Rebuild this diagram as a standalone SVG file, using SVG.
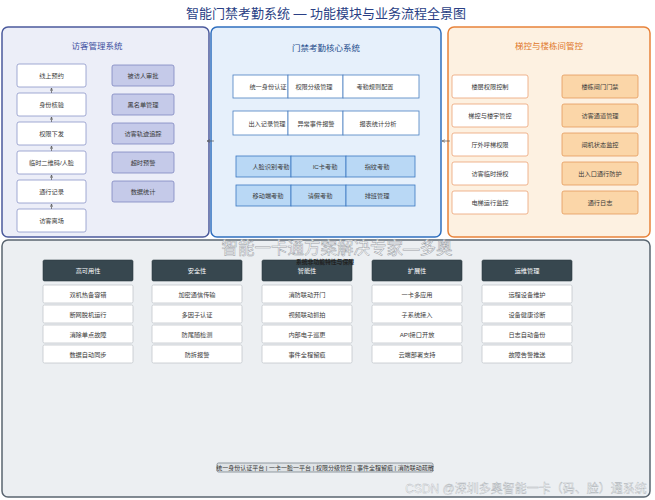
<svg xmlns="http://www.w3.org/2000/svg" width="655" height="500" viewBox="0 0 655 500">
<style>
text{font-family:"Liberation Sans","Noto Sans CJK SC",sans-serif;text-anchor:middle;dominant-baseline:central;font-size:6.2px;fill:#3a3a3a}
.title{font-size:13px;fill:#2a3f85}
.pt{font-size:8.5px}
.wb{fill:#fff;stroke:#8c94c8;stroke-width:0.8}
.lb{fill:#c5cae9;stroke:#7f87bf;stroke-width:0.8}
.mw{fill:#fff;stroke:#4a7fc0;stroke-width:0.8}
.mb{fill:#b9d8f5;stroke:#3a78c0;stroke-width:0.8}
.ow{fill:#fff;stroke:#eba274;stroke-width:0.8}
.ob{fill:#fbd6a8;stroke:#e59a5a;stroke-width:0.8}
.hd{fill:#37474f;stroke:#2c3a40;stroke-width:0.6}
.hdt{fill:#fff}
.it{fill:#fff;stroke:#c3c7cb;stroke-width:0.8}
.conn{stroke:#555;stroke-width:0.7;fill:none}
.wm{font-size:16.5px;fill:#fff;stroke:#9aa0a6;stroke-width:0.5}
</style>
<defs>
<marker id="ah" viewBox="0 0 6 6" refX="5.5" refY="3" markerWidth="5" markerHeight="5" orient="auto-start-reverse">
<path d="M0,0.5 L5.5,3 L0,5.5" fill="none" stroke="#555" stroke-width="1"/>
</marker>
</defs>
<rect width="655" height="500" fill="#ffffff"/>
<text class="title" x="326" y="13">智能门禁考勤系统 — 功能模块与业务流程全景图</text>

<g id="visitor">
<rect x="2" y="27" width="207" height="210" rx="6" fill="#eceef8" stroke="#4b5a9c" stroke-width="1.5"/>
<text class="pt" x="97" y="46" style="fill:#3d4fa0">访客管理系统</text>
<g id="v1"><rect class="wb" x="17" y="64" width="69" height="23" rx="2"/><text x="51.5" y="75.5">线上预约</text></g>
<g id="v2"><rect class="wb" x="17" y="93" width="69" height="23" rx="2"/><text x="51.5" y="104.5">身份核验</text></g>
<g id="v3"><rect class="wb" x="17" y="122" width="69" height="23" rx="2"/><text x="51.5" y="133.5">权限下发</text></g>
<g id="v4"><rect class="wb" x="17" y="151" width="69" height="23" rx="2"/><text x="51.5" y="162.5">临时二维码/人脸</text></g>
<g id="v5"><rect class="wb" x="17" y="180" width="69" height="23" rx="2"/><text x="51.5" y="191.5">通行记录</text></g>
<g id="v6"><rect class="wb" x="17" y="209" width="69" height="23" rx="2"/><text x="51.5" y="220.5">访客离场</text></g>
<g id="v7"><rect class="lb" x="112" y="65" width="62" height="21" rx="2"/><text x="143" y="75.5">被访人审批</text></g>
<g id="v8"><rect class="lb" x="112" y="94" width="62" height="21" rx="2"/><text x="143" y="104.5">黑名单管理</text></g>
<g id="v9"><rect class="lb" x="112" y="123" width="62" height="21" rx="2"/><text x="143" y="133.5">访客轨迹追踪</text></g>
<g id="v10"><rect class="lb" x="112" y="152" width="62" height="21" rx="2"/><text x="143" y="162.5">超时预警</text></g>
<g id="v11"><rect class="lb" x="112" y="181" width="62" height="21" rx="2"/><text x="143" y="191.5">数据统计</text></g>
</g>

<g id="core">
<rect x="211" y="27" width="230" height="210" rx="6" fill="#e6f0fb" stroke="#2f6fbf" stroke-width="1.5"/>
<text class="pt" x="326" y="48" style="fill:#1e4d8c">门禁考勤核心系统</text>
<g id="c1"><rect class="mw" x="233" y="75" width="55" height="23"/><text x="268" y="86.5">统一身份认证</text></g>
<g id="c2"><rect class="mw" x="288" y="75" width="55" height="23"/><text x="314" y="86.5">权限分级管理</text></g>
<g id="c3"><rect class="mw" x="343" y="75" width="76" height="23"/><text x="375" y="86.5">考勤规则配置</text></g>
<g id="c4"><rect class="mw" x="233" y="111" width="55" height="24"/><text x="267" y="123">出入记录管理</text></g>
<g id="c5"><rect class="mw" x="288" y="111" width="55" height="24"/><text x="316" y="123">异常事件报警</text></g>
<g id="c6"><rect class="mw" x="343" y="111" width="76" height="24"/><text x="378" y="123">报表统计分析</text></g>
<g id="c7"><rect class="mb" x="236" y="156" width="55" height="21"/><text x="271" y="166.5">人脸识别考勤</text></g>
<g id="c8"><rect class="mb" x="291" y="156" width="55" height="21"/><text x="325" y="166.5">IC卡考勤</text></g>
<g id="c9"><rect class="mb" x="346" y="156" width="69" height="21"/><text x="377" y="166.5">指纹考勤</text></g>
<g id="c10"><rect class="mb" x="236" y="185" width="55" height="21"/><text x="268" y="195.5">移动端考勤</text></g>
<g id="c11"><rect class="mb" x="291" y="185" width="55" height="21"/><text x="320" y="195.5">请假考勤</text></g>
<g id="c12"><rect class="mb" x="346" y="185" width="69" height="21"/><text x="377" y="195.5">排班管理</text></g>
</g>

<g id="elevator">
<rect x="448" y="27" width="202" height="210" rx="6" fill="#fdf1e1" stroke="#e8833a" stroke-width="1.5"/>
<text class="pt" x="549" y="46" style="fill:#e0772a">梯控与楼栋间管控</text>
<g id="e1"><rect class="ow" x="452" y="75" width="76" height="23" rx="2"/><text x="490" y="86.5">楼层权限控制</text></g>
<g id="e2"><rect class="ow" x="452" y="104" width="76" height="23" rx="2"/><text x="490" y="115.5">梯控与楼宇管控</text></g>
<g id="e3"><rect class="ow" x="452" y="133" width="76" height="23" rx="2"/><text x="490" y="144.5">厅外呼梯权限</text></g>
<g id="e4"><rect class="ow" x="452" y="162" width="76" height="23" rx="2"/><text x="490" y="173.5">访客临时授权</text></g>
<g id="e5"><rect class="ow" x="452" y="191" width="76" height="23" rx="2"/><text x="490" y="202.5">电梯运行监控</text></g>
<g id="e6"><rect class="ob" x="562" y="75" width="76" height="23" rx="2"/><text x="600" y="86.5">楼栋闸门门禁</text></g>
<g id="e7"><rect class="ob" x="562" y="104" width="76" height="23" rx="2"/><text x="600" y="115.5">访客通道管理</text></g>
<g id="e8"><rect class="ob" x="562" y="133" width="76" height="23" rx="2"/><text x="600" y="144.5">闸机状态监控</text></g>
<g id="e9"><rect class="ob" x="562" y="162" width="76" height="23" rx="2"/><text x="600" y="173.5">出入口通行防护</text></g>
<g id="e10"><rect class="ob" x="562" y="191" width="76" height="23" rx="2"/><text x="600" y="202.5">通行日志</text></g>
</g>

<g id="features">
<rect x="2" y="240" width="648" height="257" rx="6" fill="#eceff2" stroke="#5a6570" stroke-width="1.5"/>
<g id="f1">
<rect class="hd" x="43" y="260" width="90" height="21" rx="1.5"/><text class="hdt" x="88" y="270.5">高可用性</text>
<rect class="it" x="43" y="285" width="90" height="18" rx="1.5"/><text x="88" y="294">双机热备容错</text>
<rect class="it" x="43" y="305" width="90" height="18" rx="1.5"/><text x="88" y="314">断网脱机运行</text>
<rect class="it" x="43" y="325" width="90" height="18" rx="1.5"/><text x="88" y="334">消除单点故障</text>
<rect class="it" x="43" y="345" width="90" height="18" rx="1.5"/><text x="88" y="354">数据自动同步</text>
</g>
<g id="f2">
<rect class="hd" x="152" y="260" width="90" height="21" rx="1.5"/><text class="hdt" x="197" y="270.5">安全性</text>
<rect class="it" x="152" y="285" width="90" height="18" rx="1.5"/><text x="197" y="294">加密通信传输</text>
<rect class="it" x="152" y="305" width="90" height="18" rx="1.5"/><text x="197" y="314">多因子认证</text>
<rect class="it" x="152" y="325" width="90" height="18" rx="1.5"/><text x="197" y="334">防尾随检测</text>
<rect class="it" x="152" y="345" width="90" height="18" rx="1.5"/><text x="197" y="354">防拆报警</text>
</g>
<g id="f3">
<rect class="hd" x="262" y="260" width="90" height="21" rx="1.5"/><text class="hdt" x="307" y="270.5">智能性</text>
<rect class="it" x="262" y="285" width="90" height="18" rx="1.5"/><text x="307" y="294">消防联动开门</text>
<rect class="it" x="262" y="305" width="90" height="18" rx="1.5"/><text x="307" y="314">视频联动抓拍</text>
<rect class="it" x="262" y="325" width="90" height="18" rx="1.5"/><text x="307" y="334">内部电子巡更</text>
<rect class="it" x="262" y="345" width="90" height="18" rx="1.5"/><text x="307" y="354">事件全程留痕</text>
</g>
<g id="f4">
<rect class="hd" x="372" y="260" width="90" height="21" rx="1.5"/><text class="hdt" x="417" y="270.5">扩展性</text>
<rect class="it" x="372" y="285" width="90" height="18" rx="1.5"/><text x="417" y="294">一卡多应用</text>
<rect class="it" x="372" y="305" width="90" height="18" rx="1.5"/><text x="417" y="314">子系统接入</text>
<rect class="it" x="372" y="325" width="90" height="18" rx="1.5"/><text x="417" y="334">API接口开放</text>
<rect class="it" x="372" y="345" width="90" height="18" rx="1.5"/><text x="417" y="354">云端部署支持</text>
</g>
<g id="f5">
<rect class="hd" x="482" y="260" width="90" height="21" rx="1.5"/><text class="hdt" x="527" y="270.5">运维管理</text>
<rect class="it" x="482" y="285" width="90" height="18" rx="1.5"/><text x="527" y="294">远程设备维护</text>
<rect class="it" x="482" y="305" width="90" height="18" rx="1.5"/><text x="527" y="314">设备健康诊断</text>
<rect class="it" x="482" y="325" width="90" height="18" rx="1.5"/><text x="527" y="334">日志自动备份</text>
<rect class="it" x="482" y="345" width="90" height="18" rx="1.5"/><text x="527" y="354">故障告警推送</text>
</g>
<text x="325" y="262" style="font-size:5.8px;fill:#222;font-weight:bold">系统非功能特性与保障</text>
<g id="footer">
<rect x="217" y="463" width="216" height="9" rx="1.5" fill="#dfe3e6" stroke="#6a7580" stroke-width="0.7"/>
<text x="325" y="467.7" style="font-size:6px;fill:#333">统一身份认证平台 | 一卡一脸一平台 | 权限分级管控 | 事件全程留痕 | 消防联动疏散</text>
</g>
</g>

<g id="connectors">
<line class="conn" x1="51.5" y1="93" x2="51.5" y2="88" marker-end="url(#ah)"/>
<line class="conn" x1="51.5" y1="122" x2="51.5" y2="117" marker-end="url(#ah)"/>
<line class="conn" x1="51.5" y1="151" x2="51.5" y2="146" marker-end="url(#ah)"/>
<line class="conn" x1="51.5" y1="180" x2="51.5" y2="175" marker-end="url(#ah)"/>
<line class="conn" x1="51.5" y1="209" x2="51.5" y2="204" marker-end="url(#ah)"/>
<line class="conn" x1="214" y1="141" x2="207" y2="141" marker-end="url(#ah)"/>
<line class="conn" x1="450" y1="141" x2="442" y2="141" marker-end="url(#ah)"/>
</g>

<text class="wm" x="337" y="248">智能一卡通方案解决专家—多奥</text>
<text x="526" y="489" style="font-size:12px;fill:#fff;stroke:#b0b5ba;stroke-width:0.4">CSDN @深圳多奥智能一卡（码、脸）通系统</text>
</svg>
